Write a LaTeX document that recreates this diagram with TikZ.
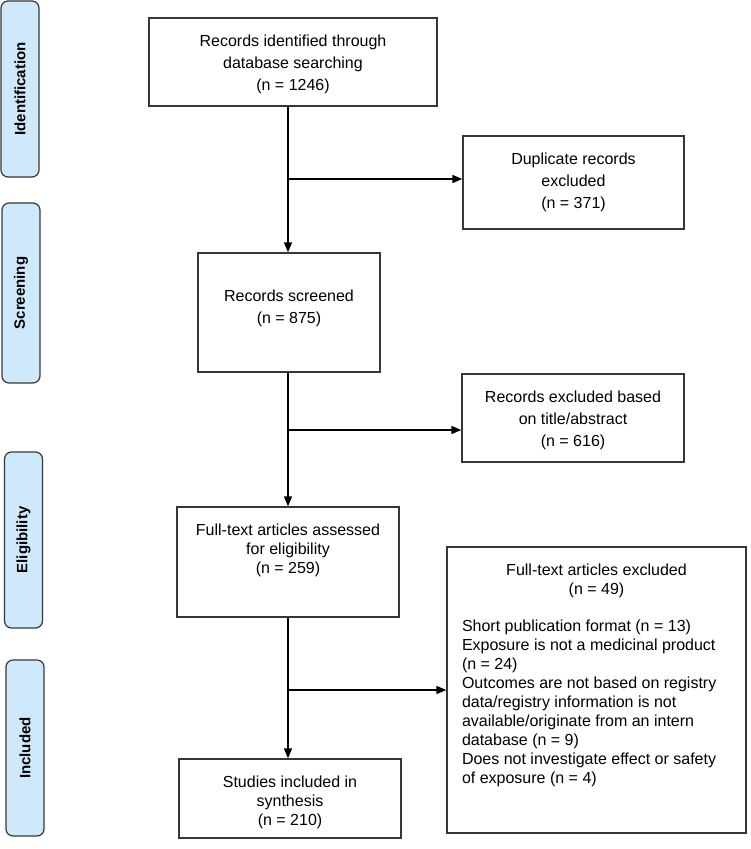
\documentclass[tikz,border=0pt]{standalone}
\usepackage{fontspec}
\setmainfont{Liberation Sans}
\usetikzlibrary{arrows.meta}
\definecolor{sideblue}{RGB}{206,233,251}
\definecolor{edgegray}{RGB}{55,55,55}

\tikzset{
  box/.style n args={3}{draw=edgegray, line width=1.3pt, inner sep=0pt, font={\fontsize{16}{19}\selectfont},
    execute at begin node={\begin{minipage}[c][#2][t]{#1}\centering\vspace*{#3}},
    execute at end node={\end{minipage}}},
  loose/.style={font={\fontsize{16}{22}\selectfont}},
  phase/.style={draw=edgegray, fill=sideblue, line width=1.2pt, rounded corners=7pt, rotate=90,
    minimum height=38pt, font={\fontsize{15}{18}\selectfont\bfseries}},
  arr/.style={line width=1.5pt, -{Triangle[length=10pt,width=8pt]}}
}

\begin{document}
\begin{tikzpicture}[x=1pt, y=-1pt]
\useasboundingbox (0,0) rectangle (751,849);
% phases on the left
\node[phase, minimum width=176pt] (lid) at (20,89) {Identification};
\node[phase, minimum width=180pt] (lsc) at (21,293) {Screening};
\node[phase, minimum width=176pt] (lel) at (23.5,540) {Eligibility};
\node[phase, minimum width=176pt] (lin) at (25,748) {Included};
% main column
\node[box={288pt}{88pt}{17pt}, loose] (id1) at (293,62) {Records identified through\\database searching\\(n = 1246)};
\node[box={182pt}{119pt}{37pt}, loose] (scr) at (289,312.5) {Records screened\\(n = 875)};
\node[box={222pt}{110pt}{17pt}] (full) at (288,562) {Full-text articles assessed\\for eligibility\\(n = 259)};
\node[box={222pt}{79pt}{17pt}] (inc) at (290,798.5) {Studies included in\\synthesis\\(n = 210)};
% exclusions
\node[box={221pt}{93pt}{17pt}, loose] (dup) at (573.5,182.5) {Duplicate records\\excluded\\(n = 371)};
\node[box={222pt}{88pt}{17pt}, loose] (ttl) at (573,418) {Records excluded based\\on title/abstract\\(n = 616)};
\node[box={299pt}{286pt}{17pt}] (ftx) at (596.5,690) {Full-text articles excluded\\(n = 49)\par\vspace{18pt}\raggedright\leftskip=15pt
Short publication format (n = 13)\\Exposure is not a medicinal product\\(n = 24)\\Outcomes are not based on registry\\data/registry information is not\\available/originate from an intern\\database (n = 9)\\Does not investigate effect or safety\\of exposure (n = 4)\par};
% arrows
\draw[arr] (id1.south -| full.north) -- (scr.north -| full.north);
\draw[arr] ([yshift=3.5pt]dup.west -| full.north) -- ([yshift=3.5pt]dup.west);
\draw[arr] (scr.south -| full.north) -- (full.north);
\draw[arr] ([yshift=-12pt]ttl.west -| full.north) -- ([yshift=-12pt]ttl.west);
\draw[arr] (full.south) -- (inc.north -| full.south);
\draw[arr] (ftx.west -| full.south) -- (ftx.west);
\end{tikzpicture}
\end{document}
